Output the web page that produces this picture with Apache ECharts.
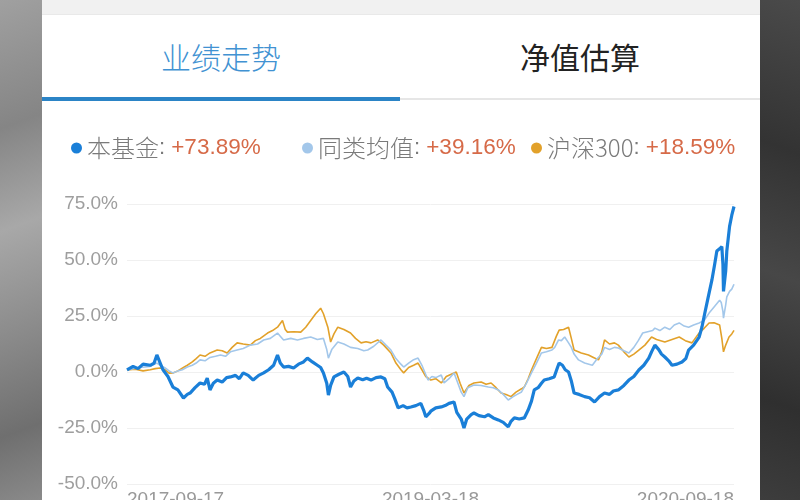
<!DOCTYPE html>
<html>
<head>
<meta charset="utf-8">
<script src="https://cdn.jsdelivr.net/npm/echarts@6/dist/echarts.min.js"></script>
<style>
  html, body { margin: 0; padding: 0; width: 800px; height: 500px; overflow: hidden; background: #fff; }
  #bgL { position: absolute; left: 0; top: 0; width: 42px; height: 500px;
    background: linear-gradient(160deg, #a0a0a0 0%, #858585 25%, #a8a8a8 45%, #8c8c8c 65%, #6f6f6f 85%, #8a8a8a 100%); }
  #bgR { position: absolute; left: 760px; top: 0; width: 40px; height: 500px;
    background: linear-gradient(200deg, #4a4a4a 0%, #333 30%, #474747 55%, #2f2f2f 80%, #3d3d3d 100%); }
  #topStrip { position: absolute; left: 42px; top: 0; width: 718px; height: 14px; background: #f1f1f1; border-bottom: 1px solid #e9e9e9; }
  .tab { position: absolute; top: 36px; width: 200px; text-align: center; font-family: "Noto Sans CJK SC", sans-serif; font-size: 30px; line-height: 40px; }
  #tab1 { left: 121px; color: #4192d2; font-weight: 300; }
  #tab2 { left: 480px; color: #222; font-weight: 400; }
  #lineBlue { position: absolute; left: 42px; top: 97px; width: 358px; height: 4px; background: #2b84c6; }
  #lineGray { position: absolute; left: 400px; top: 98px; width: 360px; height: 2px; background: #e6e6e6; }
  #chart { position: absolute; left: 0; top: 0; width: 800px; height: 500px; }
</style>
</head>
<body>
<div id="bgL"></div>
<div id="bgR"></div>
<div id="topStrip"></div>
<div class="tab" id="tab1">业绩走势</div>
<div class="tab" id="tab2">净值估算</div>
<div id="lineBlue"></div>
<div id="lineGray"></div>
<div id="chart"></div>
<script>
// Series names and end-of-period returns shown in the legend
const seriesNames = ['本基金', '同类均值', '沪深300'];
const legendValues = ['+73.89%', '+39.16%', '+18.59%'];
// X tick labels (start, middle, end of the 3-year period)
const xTickLabels = ['2017-09-17', '2019-03-18', '2020-09-18'];
const xMaxDay = 1097;
// Y tick values range
const yMin = -50, yMax = 75, yStep = 25;

// [day since start, cumulative return %]
const fundData = [
[0,0.9],[11,2.5],[20,1.5],[29,3.5],[42,3],[49,4],[54,7.6],[60,4],[65,1],[74,-2],[83,-6.7],[92,-8],[102,-11.6],[109,-10],[114,-9.4],[123,-7],[132,-4.9],[140,-5.5],[145,-2.7],[150,-8],[156,-5],[163,-3.6],[172,-4.5],[180,-2.5],[187,-2.2],[196,-1.5],[203,-3],[210,-0.4],[219,-1.5],[228,-3.6],[238,-1.5],[247,-0.4],[256,1],[265,3],[272,7.6],[277,4],[283,2.2],[292,2.5],[301,1.8],[310,3.5],[319,4.5],[326,6.2],[335,4.5],[344,3],[350,2],[355,-0.4],[361,-5],[364,-10.3],[368,-6],[374,-2.2],[383,-1],[392,0],[399,-2],[404,-6.7],[410,-4],[417,-2.7],[426,-3.5],[433,-2.8],[441,-3.6],[450,-2.5],[459,-2.2],[466,-3],[471,-6.7],[479,-9],[484,-12],[490,-16],[499,-15],[506,-16],[513,-15.6],[522,-15],[531,-14],[536,-17],[540,-20],[546,-18.5],[549,-17.5],[558,-16],[568,-15.6],[575,-15],[582,-14],[591,-13.4],[596,-18],[604,-21],[609,-25],[614,-21],[622,-19],[627,-18.3],[636,-19.5],[646,-20],[653,-19],[662,-20.5],[671,-21.4],[680,-22.5],[689,-24.5],[694,-22],[700,-20.5],[709,-21],[718,-20.5],[725,-17],[731,-13],[736,-8],[743,-7],[749,-5],[754,-3.6],[763,-3],[772,-2.2],[778,2],[781,4],[787,3],[792,1],[798,0],[803,-4],[808,-9.4],[817,-10],[827,-11],[836,-11.5],[845,-13.4],[854,-11],[863,-9.4],[872,-10],[879,-8.5],[888,-8],[898,-6],[907,-3.6],[916,-2],[925,0.9],[934,3],[943,6.2],[948,9],[954,12],[961,10],[966,8],[972,6.7],[979,5],[985,3],[994,3.5],[1003,4.5],[1010,6],[1015,9.8],[1024,12],[1034,15.6],[1039,20],[1044,26],[1050,33],[1057,41],[1062,48],[1066,54],[1071,55],[1075,56],[1077,48],[1078,36],[1082,45],[1084,54],[1089,65],[1093,70],[1097,73.89]
];
const peerData = [
[0,0.9],[11,1.5],[24,2],[42,2.5],[54,4],[60,3],[69,1.8],[76,0.5],[83,-0.4],[92,0.5],[100,1],[109,2.2],[118,3],[125,4],[132,5.4],[141,5],[150,6.5],[160,7],[169,7.6],[178,7],[187,9],[199,9.8],[210,10.5],[223,12],[236,12.5],[247,14.3],[259,15],[272,17.4],[277,16],[283,14.3],[296,15],[308,14.3],[319,15],[332,15.6],[344,14.5],[355,15],[361,10],[364,6.2],[370,10],[381,13.4],[392,12.5],[404,11],[417,10.5],[428,9.5],[435,9.8],[446,11.5],[459,14.3],[468,12],[477,9.8],[486,6],[495,3.5],[500,2.2],[509,4],[518,5.5],[526,6.2],[533,3],[538,0],[544,-3.6],[551,-2],[558,-2.5],[568,-1.3],[573,-4.9],[582,-3],[591,-0.4],[598,-5],[604,-9],[609,-11],[616,-7],[627,-5.8],[640,-6],[653,-6.7],[662,-7],[671,-8],[680,-10],[689,-12.5],[698,-11],[705,-10],[713,-8.9],[722,-5],[731,-0.4],[740,4],[749,8.5],[758,9],[768,9.8],[773,11],[780,14.3],[785,14],[791,15.6],[798,13],[803,11],[808,8],[816,5.4],[827,4],[841,3],[850,6],[858,8],[863,11],[872,10],[881,11],[888,10.7],[898,9.5],[907,8.5],[916,11],[924,14],[932,17.4],[941,18],[950,18.5],[954,19.6],[963,18.5],[972,20],[981,19],[989,21],[998,21.9],[1007,20.5],[1015,20],[1024,21],[1034,21.9],[1043,23],[1052,26.3],[1061,29],[1071,32],[1074,31],[1077,27],[1078,24],[1082,30],[1084,33.5],[1089,36],[1093,37],[1097,39.16]
];
const indexData = [
[0,0.9],[15,1.2],[29,0.5],[42,1],[51,1.5],[60,1.8],[69,1],[76,-0.5],[83,-0.4],[92,0.5],[102,2],[109,3],[118,4.5],[125,6],[132,7.6],[141,7],[150,8.5],[163,9.8],[172,9.5],[181,8.5],[190,11],[199,13],[210,12.5],[223,12],[232,14],[241,15],[254,17.4],[263,18.5],[272,20],[281,23],[286,19],[290,17.8],[301,18],[314,17.8],[323,20],[332,23],[341,26],[350,28.5],[355,26],[363,20],[368,13.4],[374,17],[381,20],[392,19],[404,17.4],[413,15],[423,13],[432,13.5],[441,13],[453,14.3],[464,12],[477,8.5],[486,4],[495,1],[500,-0.4],[509,2],[518,3],[526,4],[533,1],[540,-2],[549,-3.6],[558,-3],[568,-4.9],[577,-2],[586,-1],[595,0],[602,-5],[609,-9.4],[618,-6],[627,-4.9],[640,-4.5],[649,-5.5],[658,-4.9],[667,-7],[676,-9.4],[685,-10],[694,-11],[703,-9],[713,-7.5],[718,-6.7],[725,-3],[731,0.9],[740,6],[749,11],[758,10.5],[768,11],[776,16],[781,18.7],[789,19],[798,20],[803,15],[808,9.8],[821,8.5],[834,7.6],[843,6.5],[852,5.4],[858,9],[863,14.3],[872,12.5],[881,13],[888,12],[898,9],[907,6.7],[916,8],[925,9.8],[936,12],[948,15.6],[957,14.5],[972,13.4],[985,14.5],[998,15.6],[1009,14],[1021,13],[1034,17.4],[1043,19.5],[1052,21.9],[1061,22],[1071,21],[1075,15],[1078,9],[1082,12],[1088,15.6],[1093,17],[1097,18.59]
];

const colors = ['#1a7fd8', '#a3c7ea', '#e2a12a'];
const valueMap = {};
seriesNames.forEach((n, i) => { valueMap[n] = legendValues[i]; });

const legendLefts = [66, 297, 526];
const cjkFont = '"Noto Sans CJK SC", sans-serif';
const latinFont = '"Liberation Sans", "Noto Sans CJK SC", sans-serif';

const chart = echarts.init(document.getElementById('chart'));
chart.setOption({
  animation: false,
  textStyle: { fontFamily: cjkFont },
  legend: seriesNames.map((n, i) => ({
    data: [{ name: n, icon: 'circle' }],
    left: legendLefts[i],
    top: 131,
    itemWidth: 11,
    itemHeight: 11,
    itemGap: 0,
    selectedMode: false,
    formatter: name => '{n|' + name + '}{c|: }{v|' + valueMap[name] + '}',
    textStyle: {
      rich: {
        n: { color: '#7a7a7a', fontSize: 24, fontFamily: cjkFont, fontWeight: 300 },
        c: { color: '#7a7a7a', fontSize: 22, fontFamily: latinFont },
        v: { color: '#d66a48', fontSize: 22.5, fontFamily: latinFont }
      }
    }
  })),
  grid: { left: 127, right: 66, top: 204, bottom: 16, outerBoundsMode: 'none' },
  xAxis: {
    type: 'value',
    min: 0,
    max: xMaxDay,
    interval: xMaxDay / 2,
    axisLine: { show: false },
    axisTick: { show: false },
    splitLine: { show: false },
    axisLabel: {
      color: '#999',
      fontSize: 19,
      margin: 6,
      fontFamily: latinFont,
      alignMinLabel: 'left',
      alignMaxLabel: 'right',
      formatter: v => xTickLabels[Math.round(v / (xMaxDay / 2))] || ''
    }
  },
  yAxis: {
    type: 'value',
    min: yMin,
    max: yMax,
    interval: yStep,
    axisLine: { show: false },
    axisTick: { show: false },
    splitLine: { lineStyle: { color: '#f0f0f0', width: 1 } },
    axisLabel: {
      color: '#9e9e9e',
      fontSize: 19,
      margin: 9,
      fontFamily: latinFont,
      formatter: v => v.toFixed(1) + '%'
    }
  },
  series: [
    { name: seriesNames[2], type: 'line', data: indexData, showSymbol: false, z: 2,
      lineStyle: { color: colors[2], width: 1.6 }, itemStyle: { color: colors[2] } },
    { name: seriesNames[1], type: 'line', data: peerData, showSymbol: false, z: 3,
      lineStyle: { color: colors[1], width: 1.6 }, itemStyle: { color: colors[1] } },
    { name: seriesNames[0], type: 'line', data: fundData, showSymbol: false, z: 4,
      lineStyle: { color: colors[0], width: 3.2 }, itemStyle: { color: colors[0] } }
  ]
});
</script>
</body>
</html>
